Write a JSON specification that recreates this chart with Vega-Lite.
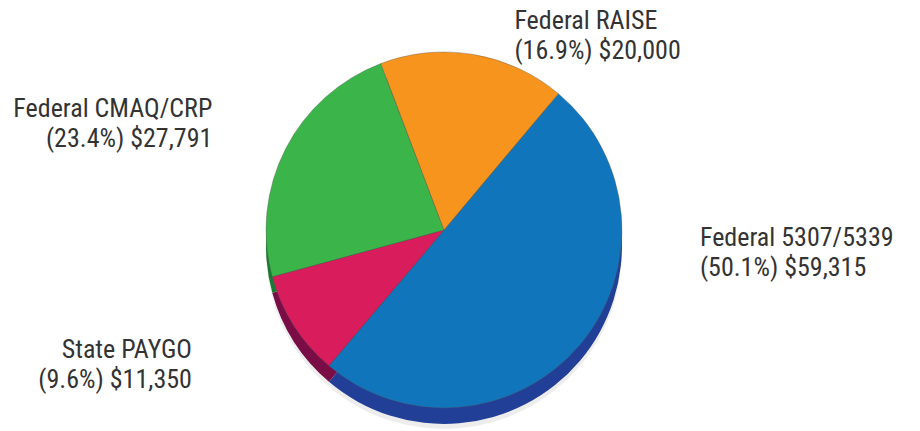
{
  "$schema": "https://vega.github.io/schema/vega-lite/v6.json",
  "width": 888,
  "height": 402,
  "autosize": "none",
  "padding": {"top": 29, "right": 32, "bottom": 0, "left": 0},
  "background": "white",
  "view": {"stroke": null},
  "data": {"values": [
    {"name": "Federal 5307/5339", "share": "50.1%", "amount": 59315, "ord": 1},
    {"name": "State PAYGO", "share": "9.6%", "amount": 11350, "ord": 2},
    {"name": "Federal CMAQ/CRP", "share": "23.4%", "amount": 27791, "ord": 3},
    {"name": "Federal RAISE", "share": "16.9%", "amount": 20000, "ord": 4}
  ]},
  "transform": [
    {"stack": "amount", "groupby": [], "sort": [{"field": "ord", "order": "ascending"}], "as": ["v0", "v1"]},
    {"calculate": "(datum.v0 + datum.v1) / 2", "as": "mid"},
    {"calculate": "datum.name + '\\n(' + datum.share + ') $' + format(datum.amount, ',')", "as": "label"}
  ],
  "layer": [
    {
      "mark": {"type": "arc", "radius": 178, "yOffset": 21, "fill": "#000000", "fillOpacity": 0.07},
      "encoding": {
        "theta": {"field": "v0", "type": "quantitative", "scale": {"domain": [0, 118456], "range": [0.6981, 6.9813]}},
        "theta2": {"field": "v1"}
      }
    },
    {
      "mark": {"type": "arc", "radius": 178, "yOffset": 16},
      "encoding": {
        "theta": {"field": "v0", "type": "quantitative", "scale": {"domain": [0, 118456], "range": [0.6981, 6.9813]}},
        "theta2": {"field": "v1"},
        "fill": {"field": "name", "type": "nominal", "legend": null,
          "scale": {"domain": ["Federal 5307/5339", "State PAYGO", "Federal CMAQ/CRP", "Federal RAISE"],
                    "range": ["#223f98", "#7a0d45", "#1b7a32", "#b86a10"]}}
      }
    },
    {
      "mark": {"type": "arc", "radius": 178, "stroke": "#555555", "strokeWidth": 0.6, "strokeOpacity": 0.6},
      "encoding": {
        "theta": {"field": "v0", "type": "quantitative", "scale": {"domain": [0, 118456], "range": [0.6981, 6.9813]}},
        "theta2": {"field": "v1"},
        "color": {"field": "name", "type": "nominal", "legend": null,
          "scale": {"domain": ["Federal 5307/5339", "State PAYGO", "Federal CMAQ/CRP", "Federal RAISE"],
                    "range": ["#1175bc", "#d91d5c", "#3bb54a", "#f7941d"]}}
      }
    },
    {
      "transform": [{"filter": "datum.name === 'Federal RAISE'"}],
      "mark": {"type": "text", "radius": 212, "align": "left", "baseline": "middle", "dx": 35, "dy": 0,
               "lineBreak": "\n", "lineHeight": 30, "font": "Roboto Condensed", "fontSize": 26, "fill": "#333333"},
      "encoding": {
        "theta": {"field": "mid", "type": "quantitative"},
        "text": {"field": "label", "type": "nominal"}
      }
    },
    {
      "transform": [{"filter": "datum.name === 'Federal 5307/5339'"}],
      "mark": {"type": "text", "radius": 200, "align": "left", "baseline": "middle", "dx": 103, "dy": -121,
               "lineBreak": "\n", "lineHeight": 30, "font": "Roboto Condensed", "fontSize": 26, "fill": "#333333"},
      "encoding": {
        "theta": {"field": "mid", "type": "quantitative"},
        "text": {"field": "label", "type": "nominal"}
      }
    },
    {
      "transform": [{"filter": "datum.name === 'State PAYGO'"}],
      "mark": {"type": "text", "radius": 223, "align": "right", "baseline": "middle", "dx": -64, "dy": 0,
               "lineBreak": "\n", "lineHeight": 30, "font": "Roboto Condensed", "fontSize": 26, "fill": "#333333"},
      "encoding": {
        "theta": {"field": "mid", "type": "quantitative"},
        "text": {"field": "label", "type": "nominal"}
      }
    },
    {
      "transform": [{"filter": "datum.name === 'Federal CMAQ/CRP'"}],
      "mark": {"type": "text", "radius": 260, "align": "right", "baseline": "middle", "dx": 0, "dy": -3,
               "lineBreak": "\n", "lineHeight": 30, "font": "Roboto Condensed", "fontSize": 26, "fill": "#333333"},
      "encoding": {
        "theta": {"field": "mid", "type": "quantitative"},
        "text": {"field": "label", "type": "nominal"}
      }
    }
  ],
  "resolve": {"scale": {"color": "independent", "fill": "independent"}}
}
